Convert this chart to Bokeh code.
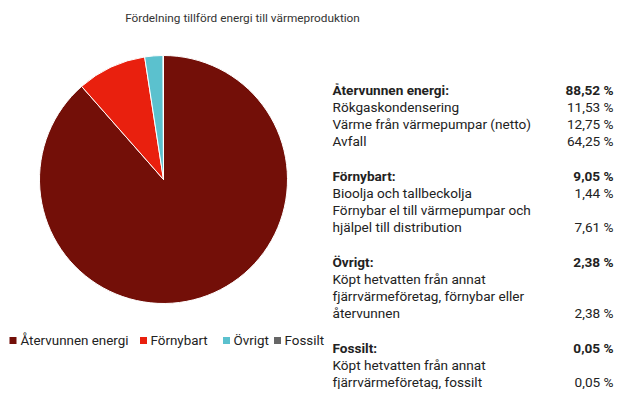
import numpy as np
from bokeh.plotting import figure
from bokeh.models import Range1d, ColumnDataSource
from bokeh.core.properties import value
from bokeh.embed import file_html
from bokeh.resources import INLINE

# ---- data ----
title_text = "Fördelning tillförd energi till värmeproduktion"
categories = ["Återvunnen energi", "Förnybart", "Övrigt", "Fossilt"]
shares = [88.52, 9.05, 2.38, 0.05]
colors = ["#730f08", "#e9200e", "#5bc1ce", "#666666"]
sub_labels = [
    ["Rökgaskondensering", "Värme från värmepumpar (netto)", "Avfall"],
    ["Bioolja och tallbeckolja", "Förnybar el till värmepumpar och\nhjälpel till distribution"],
    ["Köpt hetvatten från annat\nfjärrvärmeföretag, förnybar eller\nåtervunnen"],
    ["Köpt hetvatten från annat\nfjärrvärmeföretag, fossilt"],
]
sub_values = [[11.53, 12.75, 64.25], [1.44, 7.61], [2.38], [0.05]]

W, H = 616, 389
FONT = value("Roboto")
TXT = "#222222"


def sx(x):  # picture x -> plot x
    return x


def sy(y):  # picture y (down) -> plot y (up)
    return H - y


def fmt(v):
    return f"{v:.2f}".replace(".", ",") + " %"


p = figure(width=W, height=H, x_range=Range1d(0, W), y_range=Range1d(0, H),
           output_backend="svg", toolbar_location=None,
           x_axis_location=None, y_axis_location=None, min_border=0)
p.grid.visible = False
p.outline_line_color = None
p.background_fill_color = "white"

# title
p.text(x=[sx(242)], y=[sy(17)], text=[title_text], text_font=FONT,
       text_font_size="11.8px", text_color="#333333",
       text_align="center", text_baseline="middle")

# pie (clockwise from 12 o'clock)
frac = np.array(shares) / np.sum(shares)
cum = np.concatenate([[0], np.cumsum(frac)])
start = np.pi / 2 - 2 * np.pi * cum[:-1]
end = np.pi / 2 - 2 * np.pi * cum[1:]
pie_src = ColumnDataSource(dict(start=start, end=end, color=colors))
p.wedge(x=sx(163), y=sy(179), radius=124, start_angle="start", end_angle="end",
        direction="clock", fill_color="color", line_color="white", line_width=1,
        source=pie_src)

# legend
sq_x = [12.5, 143, 226, 277]
tx_x = [20, 150, 233, 284]
ly = 340
p.rect(x=[sx(v) for v in sq_x], y=[sy(ly)] * 4, width=7, height=7,
       fill_color=colors, line_color=None)
p.text(x=[sx(v) for v in tx_x], y=[sy(ly)] * 4, text=categories, text_font=FONT,
       text_font_size="13.4px", text_color=TXT, text_align="left",
       text_baseline="middle")

# table
lx, rx = sx(332), sx(613)
y0, pitch = 89, 17.2
rows_l, rows_r, rows_y, rows_b = [], [], [], []
line = 0
for cat, total, labs, vals in zip(categories, shares, sub_labels, sub_values):
    rows_l.append(cat + ":"); rows_r.append(fmt(total)); rows_y.append(line); rows_b.append(True)
    line += 1
    for lab, v in zip(labs, vals):
        parts = lab.split("\n")
        for k, part in enumerate(parts):
            rows_l.append(part)
            rows_r.append(fmt(v) if k == len(parts) - 1 else "")
            rows_y.append(line)
            rows_b.append(False)
            line += 1
    line += 1

ys = [sy(y0 + i * pitch) for i in rows_y]
styles = ["bold" if b else "normal" for b in rows_b]
tab = ColumnDataSource(dict(x=[lx] * len(ys), xr=[rx] * len(ys), y=ys,
                            l=rows_l, r=rows_r, s=styles))
p.text(x="x", y="y", text="l", text_font_style="s", source=tab, text_font=FONT,
       text_font_size="13.6px", text_color=TXT, text_align="left", text_baseline="middle")
p.text(x="xr", y="y", text="r", text_font_style="s", source=tab, text_font=FONT,
       text_font_size="13.6px", text_color=TXT, text_align="right", text_baseline="middle")

open("out.html", "w").write(file_html(p, INLINE))
